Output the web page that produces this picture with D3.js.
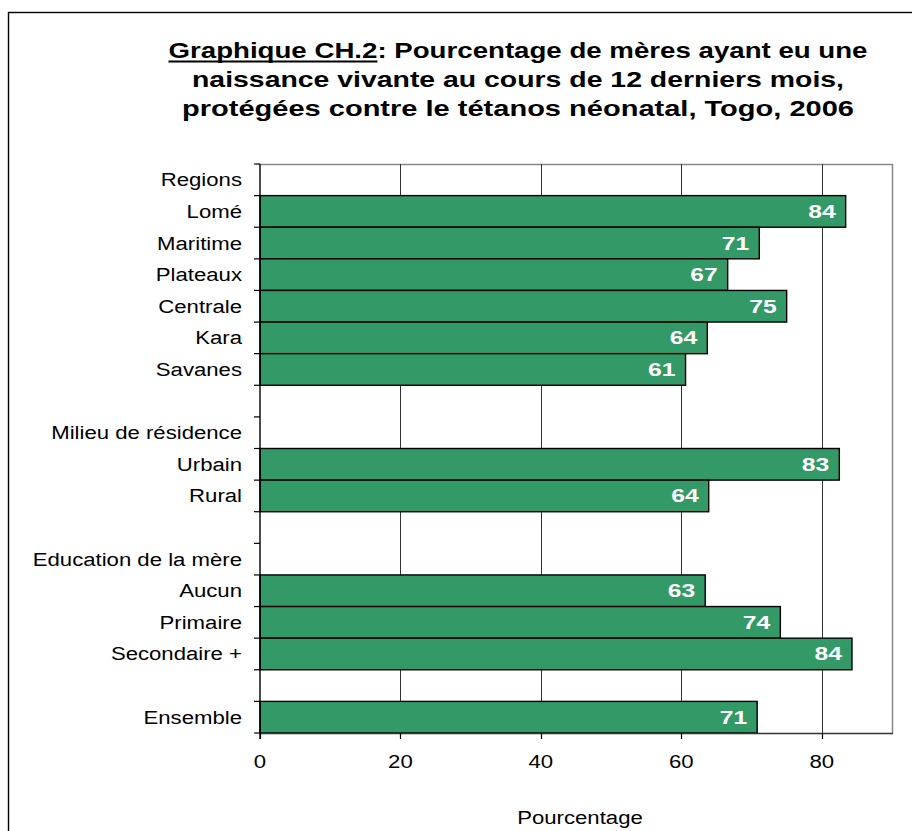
<!DOCTYPE html>
<html>
<head>
<meta charset="utf-8">
<script src="https://cdn.jsdelivr.net/npm/d3@7"></script>
<style>
  body { margin: 0; background: #fff; }
  svg text { font-family: "Liberation Sans", Arial, sans-serif; }
</style>
</head>
<body>
<div id="viz"></div>
<script>
// rows of the chart, blanks are the spacer rows between groups
var categories = ["Regions", "Lomé", "Maritime", "Plateaux", "Centrale", "Kara", "Savanes", "",
    "Milieu de résidence", "Urbain", "Rural", "",
    "Education de la mère", "Aucun", "Primaire", "Secondaire +", "",
    "Ensemble"];
var values = [null, 83.4, 71.1, 66.6, 75.0, 63.7, 60.6, null,
    null, 82.5, 63.9, null,
    null, 63.4, 74.1, 84.3, null,
    70.8];
var valueLabels = ["", "84", "71", "67", "75", "64", "61", "",
    "", "83", "64", "",
    "", "63", "74", "84", "",
    "71"];
var xTicks = [0, 20, 40, 60, 80];
var titleLines = ["Graphique CH.2: Pourcentage de mères ayant eu une",
    "naissance vivante au cours de 12 derniers mois,",
    "protégées contre le tétanos néonatal, Togo, 2006"];
var titleWidths = [699, 652, 672];
var axisTitle = "Pourcentage";

var W = 912, H = 831;
var plot = {left: 260, right: 892, top: 164, bottom: 733};
var stretchK = 1.23;

var svg = d3.select("#viz").append("svg")
    .attr("width", W)
    .attr("height", H);

// outer frame, runs off the right and bottom edges
svg.append("rect")
    .attr("x", 8.5).attr("y", 12.5)
    .attr("width", 940).attr("height", 860)
    .attr("fill", "none")
    .attr("stroke", "#000")
    .attr("stroke-width", 1.4);

function stretch(sel, k) {
    sel.each(function() {
        var w = this.getComputedTextLength();
        d3.select(this).attr("textLength", w * k).attr("lengthAdjust", "spacingAndGlyphs");
    });
}

// title
titleLines.forEach(function(line, i) {
    var t = svg.append("text")
        .attr("x", 518)
        .attr("y", 58 + i * 29)
        .attr("text-anchor", "middle")
        .attr("font-size", 22)
        .attr("font-weight", "bold")
        .attr("fill", "#000")
        .text(line);
    var natural = t.node().getComputedTextLength();
    var k = titleWidths[i] / natural;
    if (i === 0) {
        var sub = t.node().getSubStringLength(0, "Graphique CH.2".length);
        var x0 = 518 - titleWidths[i] / 2;
        svg.append("line")
            .attr("x1", x0).attr("x2", x0 + sub * k)
            .attr("y1", 61.5).attr("y2", 61.5)
            .attr("stroke", "#000")
            .attr("stroke-width", 2);
    }
    t.attr("textLength", titleWidths[i]).attr("lengthAdjust", "spacingAndGlyphs");
});

var x = d3.scaleLinear()
    .domain([0, 90])
    .range([plot.left, plot.right]);

var y = d3.scaleBand()
    .domain(d3.range(categories.length))
    .range([plot.top, plot.bottom])
    .padding(0);

// plot area border (top + right in gray)
svg.append("path")
    .attr("d", "M" + plot.left + "," + (plot.top + 0.5) + "H" + (plot.right + 0.5) + "V" + plot.bottom)
    .attr("fill", "none")
    .attr("stroke", "#888")
    .attr("stroke-width", 1.5);

// vertical gridlines
svg.selectAll(".grid")
    .data(xTicks.filter(function(d) { return d > 0; }))
    .enter()
    .append("line")
    .attr("class", "grid")
    .attr("x1", function(d) { return Math.round(x(d)) + 0.5; })
    .attr("x2", function(d) { return Math.round(x(d)) + 0.5; })
    .attr("y1", plot.top)
    .attr("y2", plot.bottom)
    .attr("stroke", "#333")
    .attr("stroke-width", 1);

// bars
var rows = categories.map(function(c, i) {
    return {i: i, name: c, value: values[i], label: valueLabels[i]};
});
var barRows = rows.filter(function(d) { return d.value !== null; });

svg.selectAll(".bar")
    .data(barRows)
    .enter()
    .append("rect")
    .attr("class", "bar")
    .attr("x", x(0))
    .attr("y", function(d) { return y(d.i); })
    .attr("width", function(d) { return x(d.value) - x(0); })
    .attr("height", y.bandwidth())
    .attr("fill", "#339966")
    .attr("stroke", "#000")
    .attr("stroke-width", 1.4);

svg.selectAll(".vlabel")
    .data(barRows)
    .enter()
    .append("text")
    .attr("class", "vlabel")
    .attr("x", function(d) { return x(d.value) - 10; })
    .attr("y", function(d) { return y(d.i) + y.bandwidth() / 2 + 6.5; })
    .attr("text-anchor", "end")
    .attr("font-size", 19)
    .attr("font-weight", "bold")
    .attr("fill", "#fff")
    .text(function(d) { return d.label; })
    .call(stretch, 1.3);

// y axis
var yAxis = svg.append("g");
yAxis.append("line")
    .attr("x1", plot.left).attr("x2", plot.left)
    .attr("y1", plot.top).attr("y2", plot.bottom + 6)
    .attr("stroke", "#000")
    .attr("stroke-width", 1.4);
yAxis.selectAll(".ytick")
    .data(d3.range(categories.length + 1))
    .enter()
    .append("line")
    .attr("x1", plot.left - 6).attr("x2", plot.left)
    .attr("y1", function(d) { return plot.top + d * y.step(); })
    .attr("y2", function(d) { return plot.top + d * y.step(); })
    .attr("stroke", "#000")
    .attr("stroke-width", 1.2);
yAxis.selectAll(".ylabel")
    .data(rows.filter(function(d) { return d.name !== ""; }))
    .enter()
    .append("text")
    .attr("x", 242)
    .attr("y", function(d) { return y(d.i) + y.bandwidth() / 2 + 6.5; })
    .attr("text-anchor", "end")
    .attr("font-size", 18)
    .attr("fill", "#000")
    .text(function(d) { return d.name; })
    .call(stretch, stretchK);

// x axis
var xAxis = svg.append("g");
xAxis.append("line")
    .attr("x1", plot.left).attr("x2", plot.right + 1)
    .attr("y1", plot.bottom + 0.5).attr("y2", plot.bottom + 0.5)
    .attr("stroke", "#333")
    .attr("stroke-width", 1.4);
xAxis.selectAll(".xtick")
    .data(xTicks)
    .enter()
    .append("line")
    .attr("x1", function(d) { return Math.round(x(d)) + 0.5; })
    .attr("x2", function(d) { return Math.round(x(d)) + 0.5; })
    .attr("y1", plot.bottom).attr("y2", plot.bottom + 6)
    .attr("stroke", "#000")
    .attr("stroke-width", 1.2);
xAxis.selectAll(".xlabel")
    .data(xTicks)
    .enter()
    .append("text")
    .attr("x", function(d) { return x(d); })
    .attr("y", 768)
    .attr("text-anchor", "middle")
    .attr("font-size", 18)
    .attr("fill", "#000")
    .text(function(d) { return d; })
    .call(stretch, stretchK);

svg.append("text")
    .attr("x", 580)
    .attr("y", 824)
    .attr("text-anchor", "middle")
    .attr("font-size", 18)
    .attr("fill", "#000")
    .text(axisTitle)
    .call(stretch, stretchK);
</script>
</body>
</html>
